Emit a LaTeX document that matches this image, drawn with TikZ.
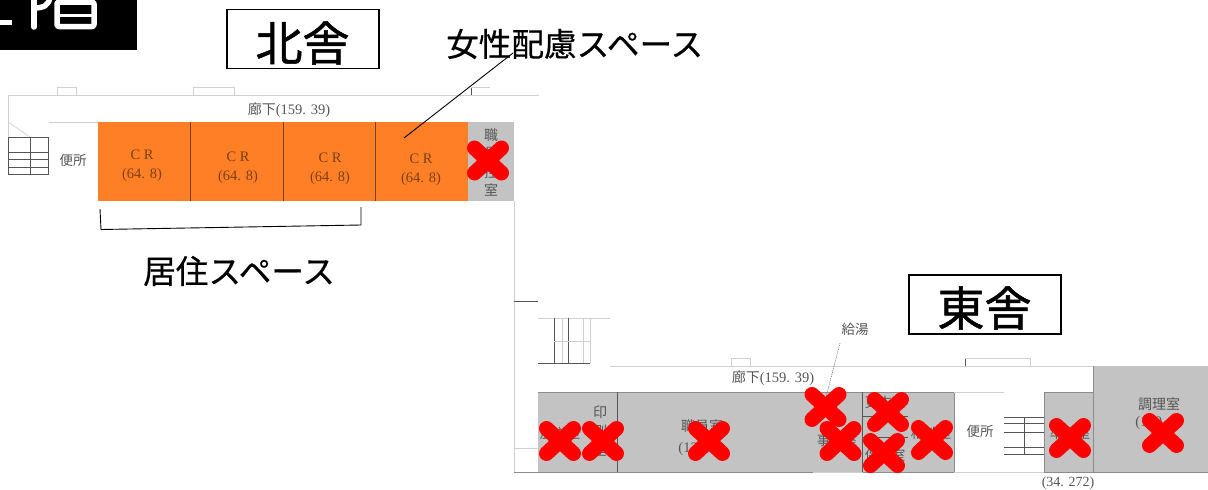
\documentclass[tikz,border=0pt]{standalone}
\usepackage{fontspec}
\newfontfamily\jp{Noto Sans CJK JP}
\newfontfamily\jpm[FakeBold=0.5]{Noto Sans CJK JP}
\newfontfamily\jph[FakeBold=1.1]{Noto Sans CJK JP}
\newfontfamily\sr{Liberation Serif}
\definecolor{orng}{HTML}{FF7F27}
\definecolor{gry}{HTML}{C3C3C3}
\definecolor{planline}{HTML}{8C8C8C}
\definecolor{faint}{HTML}{CFCFCF}
\definecolor{ink}{HTML}{555555}
\definecolor{crink}{HTML}{7A3F14}
\tikzset{
  x=1pt,y=-1pt,
  big/.style={font=\jph\fontsize{47}{47}\selectfont,inner sep=0pt,text=black},
  label/.style={font=\jpm\fontsize{32.6}{33}\selectfont,inner sep=0pt,text=black},
  small/.style={font=\sr\fontsize{14.5}{19}\selectfont,inner sep=0pt,text=ink,align=center},
  crtext/.style={small,text=crink},
  tiny/.style={font=\jp\fontsize{13.5}{15}\selectfont,inner sep=0pt,text=ink,align=center},
  title/.style={draw=black,line width=1.2pt,fill=white,inner sep=0pt},
  plan/.style={draw=planline,line width=.8pt},
  thin/.style={draw=faint,line width=.6pt},
  dark/.style={draw=ink,line width=.7pt},
  cross/.style={draw=red,line width=15pt,line cap=round},
  leader/.style={draw=black,line width=.9pt},
  tabmark/.style={draw=white,line width=5.5pt,line cap=round,line join=round}
}
\newcommand{\redx}[2]{\draw[cross] (#1-13.5,#2-12.5) -- (#1+13.5,#2+12.5) (#1-13.5,#2+12.5) -- (#1+13.5,#2-12.5);}
\begin{document}
\begin{tikzpicture}
\useasboundingbox (0,0) rectangle (1208,490);
\fill[white] (0,0) rectangle (1208,490);
% black tab with the cut-off lettering
\fill[black] (0,0) rectangle (137,50);
\begin{scope}
\clip (0,0) rectangle (137,50);
\draw[tabmark,line cap=butt] (0,22.5) -- (12,22.5);
\draw[tabmark] (34,-3) -- (34,27);
\draw[tabmark] (34,8) .. controls (44,8) and (49,5) .. (50,-3);
\draw[tabmark,rounded corners=2pt] (57,2) rectangle (94,26.5);
\draw[draw=white,line width=3.5pt] (57,15.5) -- (94,15.5);
\end{scope}
% titles
\node[title,minimum width=152,minimum height=59] (north) at (303,39) {};
\node[big] (northt) at (302.5,43) {北舎};
\node[title,minimum width=152,minimum height=59] (east) at (985,304.5) {};
\node[big] (eastt) at (984.5,308) {東舎};
% north plan lines
\draw[thin] (8,95) -- (539,95);
\draw[thin] (8,95) -- (8,137);
\draw[thin] (49,122) -- (98,122);
\draw[thin] (57.5,95) -- (57.5,87) -- (76.5,87) -- (76.5,95);
\draw[thin] (193,95) -- (193,87) -- (234,87) -- (234,95);
\draw[dark,line width=.4pt] (471,95) -- (471,87);
\draw[thin] (471,87) -- (490,87);
\draw[thin] (8,122) -- (30,137);
\draw[dark,line width=.5pt] (8,137) rectangle (48.5,174);
\draw[dark,line width=.5pt] (30,137) -- (30,174);
\draw[dark,line width=.4pt] (8,152) -- (48.5,152) (8,159) -- (48.5,159) (8,167) -- (48.5,167);
% north rooms
\fill[orng] (98,122) rectangle (468,201);
\fill[gry] (468,122) rectangle (514,201);
\draw[draw=crink,line width=.8pt] (190.5,122) -- (190.5,201) (283,122) -- (283,201) (375.5,122) -- (375.5,201);
\node[crtext] (cr1) at (142,165.5) {C R\\(64. 8)};
\node[crtext] (cr2) at (238,167.5) {C R\\(64. 8)};
\node[crtext] (cr3) at (330,169) {C R\\(64. 8)};
\node[crtext] (cr4) at (421,170) {C R\\(64. 8)};
\node[tiny,font=\jp\fontsize{14}{18.3}\selectfont] (staff) at (491,162.5) {職\\員\\控\\室};
\node[tiny] (wc1) at (73,160) {便所};
\node[small] (cor1) at (289,110) {{\jp\fontsize{14}{19}\selectfont 廊下}(159. 39)};
\coordinate (lead1a) at (404,138);
\node[label,anchor=west] (women) at (446,44) {女性配慮スペース};
\coordinate (lead1b) at (513,53);
\draw[leader] (lead1a) -- (lead1b);
\coordinate (b1) at (100,209);
\coordinate (b2) at (101,229.5);
\coordinate (b3) at (361,225);
\coordinate (b4) at (361,207);
\draw[leader] (b1) -- (b2) -- (b3) -- (b4);
\node[label,anchor=west] (live) at (143,271) {居住スペース};
% east plan
\draw[thin] (514,201) -- (514,472);
\draw[dark,line width=.6pt] (514,301) -- (538,301);
\draw[thin] (538,318) -- (610,318);
\draw[dark] (538,363) -- (590,363);
\draw[dark] (554.5,318) -- (554.5,363) (568.5,318) -- (568.5,363);
\draw[thin] (590,318) -- (590,363) (562,318) -- (562,363) (583,318) -- (583,363);
\draw[thin] (554,341) -- (590,341);
\draw[thin] (610,366.5) -- (1093,366.5);
\draw[thin] (731,366) -- (731,358) -- (750.5,358) -- (750.5,366);
\draw[dark,line width=.5pt] (965,366) -- (965,358);
\draw[thin] (965,358) -- (1030.5,358) -- (1030.5,366);
\fill[gry] (538,392) rectangle (954,472);
\fill[gry] (1044,392) rectangle (1093,472);
\fill[gry] (1093,366) rectangle (1208,472);
\draw[plan] (538,392.5) -- (954,392.5) (954,392) -- (954,472);
\draw[plan] (1044,392.5) -- (1093,392.5) (1044,392) -- (1044,472) (1093,366) -- (1093,472);
\draw[dark] (617.5,392) -- (617.5,472);
\draw[dark] (862.5,392) -- (862.5,472);
\draw[dark] (862,416) -- (908,416) (862,437) -- (908,437);
\draw[plan] (514,472.5) -- (813,472.5) (863,472.5) -- (954,472.5) (1044,472.5) -- (1208,472.5);
\draw[thin] (813,472.5) -- (863,472.5) (954,472.5) -- (1044,472.5);
\draw[thin] (514,448) -- (538,448);
\draw[dark,line width=.5pt] (1004,417) -- (1044,417) (1004,423) -- (1044,423) (1004,432) -- (1044,432) (1004,447) -- (1044,447) (1004,454) -- (1044,454);
\draw[dark,line width=.5pt] (1024,417) -- (1024,454);
\draw[thin] (954,392) -- (1004,392);
% east text
\node[tiny,font=\jp\fontsize{14}{19}\selectfont] (print) at (600,431) {印\\刷\\室};
\node[tiny] (a1) at (560,433) {放送室};
\node[small,font=\sr\fontsize{14.5}{21}\selectfont] (staffroom) at (702,437.5) {{\jp\fontsize{14}{21}\selectfont 職員室}\\(130. 1)};
\node[small] (cor2) at (773,378) {{\jp\fontsize{14}{19}\selectfont 廊下}(159. 39)};
\node[tiny] (water) at (855,329) {給湯};
\coordinate (w1) at (840,343);
\coordinate (w2) at (826,397);
\draw[dash pattern=on 1pt off 1pt,draw=ink,line width=.5pt] (w1) -- (w2);
\node[tiny] (a2) at (837,440) {事務室};
\node[tiny] (a3) at (885,402) {更衣室};
\node[tiny] (a4) at (885,455) {保健室};
\node[tiny] (a5) at (931,433) {相談室};
\node[tiny] (wc2) at (980,431) {便所};
\node[tiny] (a6) at (1070,433) {準備室};
\node[tiny,font=\jp\fontsize{14}{15}\selectfont] (cook) at (1159,404) {調理室};
\node[small] (cook2) at (1159,423) {(130. 1)};
\node[small,font=\sr\fontsize{14}{19}\selectfont] (sz) at (1068,483) {(34. 272)};
% crosses
\redx{488}{160.5}
\redx{560}{441}
\redx{603}{441}
\redx{709}{441}
\redx{825.5}{407}
\redx{840.5}{441}
\redx{888}{412}
\redx{884}{453}
\redx{932}{440}
\redx{1070}{438}
\redx{1163}{433}
\end{tikzpicture}
\end{document}
